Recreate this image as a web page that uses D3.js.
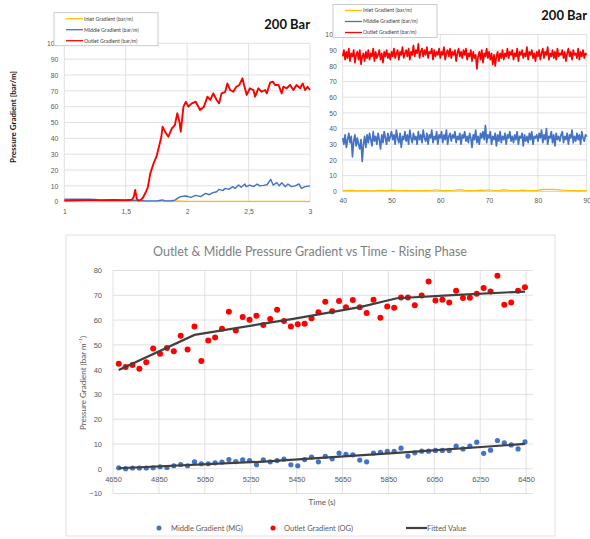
<!DOCTYPE html>
<html>
<head>
<meta charset="utf-8">
<script src="https://cdn.jsdelivr.net/npm/d3@7"></script>
<style>
  body { margin: 0; background: #fff; }
  svg { display: block; font-family: Lato, "Liberation Sans", sans-serif; }
</style>
</head>
<body>
<svg id="chart" width="590" height="539"></svg>
<script>
// ---- top left: 200 bar, rising (x = time, y = bar/m)
const tlRedX = [1.0, 1.1, 1.2, 1.3, 1.4, 1.5, 1.55, 1.565, 1.577, 1.59, 1.6, 1.62, 1.64, 1.665, 1.68, 1.70,
  1.727, 1.75, 1.774, 1.79, 1.80, 1.82, 1.847, 1.875, 1.90, 1.92, 1.937, 1.948, 1.97, 1.99, 2.01, 2.037,
  2.07, 2.105, 2.137, 2.165, 2.187, 2.213, 2.24, 2.26, 2.28, 2.31, 2.327, 2.35, 2.376, 2.40, 2.425, 2.45,
  2.463, 2.485, 2.51, 2.54, 2.553, 2.58, 2.607, 2.634, 2.648, 2.675, 2.697, 2.716, 2.743, 2.77, 2.783,
  2.81, 2.838, 2.865, 2.89, 2.92, 2.94, 2.96, 2.98, 3.0];
const tlRed = [0.8, 0.9, 1.0, 1.0, 1.1, 1.0, 1.2, 3, 7.4, 2, 0.8, 1.0, 2.5, 6.3, 9, 17.9,
  24.2, 28.4, 35.8, 41, 47.3, 44.2, 41, 46.3, 48.4, 55.8, 50.5, 44.2, 60, 63.1, 60, 62.1,
  63.1, 57.9, 60, 66.3, 64.2, 68.4, 64.2, 62.1, 68.4, 69.4, 74.7, 70.5, 69.4, 72.6, 73.7, 77.9,
  73.7, 67.4, 71.6, 70.5, 66.3, 71.6, 69.4, 70.5, 68.4, 75.1, 75.8, 73.7, 73.7, 68.4, 72.6,
  71.6, 73.7, 70.5, 73.7, 71.6, 74.7, 70.5, 72.6, 70.5];
const tlBlueX = [1.0, 1.1, 1.2, 1.25, 1.3, 1.4, 1.5, 1.6, 1.65, 1.7, 1.75, 1.8, 1.82, 1.87, 1.9,
  1.945, 1.99, 2.03, 2.07, 2.11, 2.15, 2.18, 2.21, 2.24, 2.26, 2.29, 2.31, 2.34, 2.37, 2.39, 2.42,
  2.44, 2.47, 2.48, 2.51, 2.54, 2.57, 2.59, 2.62, 2.65, 2.68, 2.70, 2.73, 2.75, 2.77, 2.80, 2.82,
  2.85, 2.88, 2.91, 2.93, 2.96, 3.0];
const tlBlue = [1.6, 1.5, 1.6, 1.4, 1.0, 0.9, 1.0, 0.9, 0.6, 0.5, 0.5, 1.1, 0.5, 0.6, 1.0,
  3.2, 3.6, 2.7, 4.0, 3.2, 5.3, 4.4, 5.7, 6.3, 7.8, 7.0, 8.4, 7.8, 9.5, 8.4, 10.5,
  9.1, 11.2, 9.5, 10.5, 9.5, 11.2, 10.0, 10.3, 10.7, 14.1, 10.5, 12.0, 10.0, 12.0, 9.5, 11.2,
  9.5, 10.0, 11.2, 8.4, 9.5, 10.0];
const tlYellowX = [1.0, 1.1, 1.2, 1.25, 1.3, 1.5, 1.8, 1.9, 2.0, 2.5, 3.0];
const tlYellow = [0.8, 0.7, 0.8, 0.6, 0.3, 0.2, 0.2, 0.4, 0.2, 0.2, 0.2];
const tlTicks = [1, 1.5, 2, 2.5, 3];

// ---- top right: 200 bar, steady (one sample every 0.25 from 40)
const trRed = [
  86,90,84,89,85,91,83,88,86,90,82,87,89,84,90,81,86,88,83,89,
  85,90,84,88,86,91,83,89,85,87,90,84,88,82,89,86,90,85,88,84,
  89,86,91,85,88,90,84,89,87,92,85,88,90,86,91,84,89,87,93,86,
  90,88,94,85,89,91,86,90,87,92,85,89,88,91,84,90,86,89,87,91,
  85,89,87,92,84,88,90,86,91,85,89,87,90,83,88,91,86,89,85,90,
  87,91,84,88,86,90,83,89,85,87,78,86,89,84,90,82,88,86,91,85,
  89,84,88,81,87,80,86,89,83,88,85,90,84,88,86,91,85,89,87,90,
  84,88,86,91,83,89,87,90,85,88,86,92,84,89,87,90,85,88,83,89,
  86,90,84,88,91,85,89,87,92,84,88,86,90,85,89,84,91,86,88,87,
  90,85,89,83,88,91,86,89,84,90,87,88,85,91,84,89,86,90,85,88,87];
const trBlue = [
  34,30,36,28,33,37,31,35,22,32,36,29,34,30,27,33,19,30,35,28,
  36,31,37,33,29,38,32,35,30,37,33,27,36,31,38,34,30,37,32,35,
  38,33,36,30,39,34,31,37,28,35,33,38,32,36,30,39,34,31,37,33,
  35,30,38,33,36,31,39,34,32,37,30,36,34,39,31,35,33,38,30,36,
  34,38,31,36,33,39,30,35,37,32,36,34,38,31,35,33,37,30,36,34,
  38,32,35,31,37,34,28,36,33,39,31,35,30,37,34,38,33,42,31,36,
  34,38,30,35,33,37,29,36,32,38,31,35,33,37,30,36,34,38,32,35,
  31,36,33,38,30,35,34,37,29,36,32,35,31,37,33,38,30,35,34,36,
  32,37,34,39,31,36,33,40,30,35,34,38,31,36,29,37,33,35,32,36,
  38,31,35,33,37,30,36,34,39,31,35,32,37,33,36,30,38,34,32,36,35];
// inlet, one sample per unit from 40
const trYellow = [0.5,0.4,0.6,0.3,0.5,0.4,0.3,0.5,0.6,0.4,0.8,0.5,0.4,0.6,0.3,0.5,0.4,0.6,0.5,1.0,
  0.6,0.4,0.5,0.7,1.1,0.6,0.4,0.5,0.8,0.6,1.0,0.5,0.4,0.9,0.6,0.4,0.5,0.7,0.5,0.4,
  0.6,1.2,1.3,1.2,1.1,0.8,0.6,0.5,0.4,0.5,0.4];
const trTicks = [40, 50, 60, 70, 80, 90];

const topLegend = ["Inlet Gradient (bar/m)", "Middle Gradient (bar/m)", "Outlet Gradient (bar/m)"];
const topColors = ["#ffc000", "#4472c4", "#ff0000"];
const yTicksTop = [0, 10, 20, 30, 40, 50, 60, 70, 80, 90, 100];

// ---- bottom: rising phase scatter + fitted
const bTime = [4675,4705,4735,4765,4795,4825,4855,4885,4915,4945,4975,5005,5035,5065,5095,5125,5155,5185,5215,5245,
  5275,5305,5335,5365,5395,5425,5455,5485,5515,5545,5575,5605,5635,5665,5695,5725,5755,5785,5815,5845,
  5875,5905,5935,5965,5995,6025,6055,6085,6115,6145,6175,6205,6235,6265,6295,6325,6355,6385,6415,6445];
const bOutlet = [42.4,41.1,41.9,40.3,43.0,48.5,46.4,48.7,47.4,53.7,48.1,57.4,43.5,51.7,53.0,56.5,63.4,55.8,61.2,60.1,
  61.7,58.0,60.4,64.2,59.6,57.4,58.3,58.5,60.7,63.1,67.4,63.6,67.7,65.2,68.1,65.2,62.8,68.2,60.9,65.5,
  65.0,69.1,69.1,66.0,69.9,75.6,67.9,68.2,67.1,71.8,68.9,69.0,70.6,72.9,71.5,77.9,66.2,67.1,71.8,73.2];
const bMiddle = [0.4,0.0,0.3,0.3,0.3,0.4,0.8,0.5,1.2,1.7,1.2,2.8,2.0,2.0,2.4,2.7,3.7,2.9,3.6,3.3,
  1.6,3.6,2.8,3.3,3.9,1.6,1.2,3.7,4.7,2.8,5.0,4.0,6.3,5.8,5.6,3.5,2.8,6.3,6.6,7.0,
  7.0,8.3,5.1,6.4,7.1,7.1,7.4,7.4,7.4,9.1,8.0,9.1,10.7,6.2,7.5,11.4,10.4,9.6,8.0,10.8];
const fitOutT = [4675, 5005, 5435, 5726, 5887, 6150, 6445];
const fitOut = [39.8, 54.0, 60.5, 65.2, 68.8, 70.2, 71.5];
const fitMidT = [4675, 5290, 5871, 6445];
const fitMid = [0.2, 2.8, 6.3, 10.0];
const bXTicks = [4650, 4850, 5050, 5250, 5450, 5650, 5850, 6050, 6250, 6450];
const bYTicks = [-10, 0, 10, 20, 30, 40, 50, 60, 70, 80];

const svg = d3.select("#chart");
const grid = "#d9d9d9";

function drawTop(o) {
  const x = d3.scaleLinear().domain(o.xDomain).range(o.xRange);
  const y = d3.scaleLinear().domain([0, 100]).range(o.yRange);
  const g = svg.append("g");

  g.append("g").selectAll("line").data(yTicksTop.slice(1)).join("line")
    .attr("x1", o.xRange[0]).attr("x2", o.xRange[1])
    .attr("y1", d => y(d)).attr("y2", d => y(d))
    .attr("stroke", grid).attr("stroke-width", 0.8);
  g.append("g").selectAll("line").data(o.ticks).join("line")
    .attr("x1", d => x(d)).attr("x2", d => x(d))
    .attr("y1", o.yRange[0]).attr("y2", o.yRange[1])
    .attr("stroke", grid).attr("stroke-width", 0.8);
  g.append("line").attr("x1", o.xRange[0]).attr("x2", o.xRange[1])
    .attr("y1", y(0)).attr("y2", y(0)).attr("stroke", "#bfbfbf").attr("stroke-width", 0.8);

  const ya = g.append("g").attr("transform", `translate(${o.xRange[0] - 3},0)`)
    .call(d3.axisLeft(y).tickValues(yTicksTop).tickSize(0).tickPadding(3));
  const xa = g.append("g").attr("transform", `translate(0,${y(0) + 3})`)
    .call(d3.axisBottom(x).tickValues(o.ticks).tickSize(0).tickPadding(4)
      .tickFormat(d => String(d).replace(".", ",")));
  [ya, xa].forEach(a => {
    a.select(".domain").remove();
    a.selectAll("text").attr("fill", "#595959").attr("font-size", 6.8);
  });

  const line = d3.line().x(d => x(d[0])).y(d => y(d[1]));
  o.series.forEach((s, i) => {
    g.append("path").datum(d3.zip(s.x, s.y))
      .attr("fill", "none").attr("stroke", topColors[i])
      .attr("stroke-width", s.w).attr("stroke-linejoin", "round")
      .attr("d", line);
  });

  const lg = g.append("g").attr("transform", `translate(${o.legend[0]},${o.legend[1]})`);
  lg.append("rect").attr("width", 104).attr("height", 33)
    .attr("fill", "#fff").attr("stroke", "#bfbfbf").attr("stroke-width", 0.8);
  topLegend.forEach((t, i) => {
    const yy = 6 + i * 11;
    lg.append("line").attr("x1", 12).attr("x2", 29).attr("y1", yy).attr("y2", yy)
      .attr("stroke", topColors[i]).attr("stroke-width", 1.3);
    lg.append("text").attr("x", 30).attr("y", yy).attr("dy", "0.35em")
      .attr("font-size", 5.2).attr("fill", "#404040").text(t);
  });

  g.append("text").attr("x", o.title[0]).attr("y", o.title[1])
    .attr("text-anchor", "end").attr("font-weight", "bold").attr("font-size", 13)
    .attr("fill", "#111").text("200 Bar");
}

drawTop({
  xDomain: [1, 3], xRange: [64.3, 310], yRange: [201.7, 43.3], ticks: tlTicks,
  series: [
    { x: tlYellowX, y: tlYellow, w: 1.4 },
    { x: tlBlueX, y: tlBlue, w: 1.4 },
    { x: tlRedX, y: tlRed, w: 1.9 }
  ],
  legend: [54, 12.7], title: [310, 29]
});
drawTop({
  xDomain: [40, 90], xRange: [342.7, 586.7], yRange: [191.3, 34.5], ticks: trTicks,
  series: [
    { x: trYellow.map((d, i) => 40 + i), y: trYellow, w: 1.2 },
    { x: trBlue.map((d, i) => 40 + i * 0.25), y: trBlue, w: 1.7 },
    { x: trRed.map((d, i) => 40 + i * 0.25), y: trRed, w: 1.7 }
  ],
  legend: [333, 4.5], title: [587, 20]
});

svg.append("text")
  .attr("transform", "translate(16,117) rotate(-90)")
  .attr("text-anchor", "middle").attr("font-weight", "bold").attr("font-size", 8)
  .attr("fill", "#111").text("Pressure Gradient [bar/m]");

// ---- bottom chart
const bx = d3.scaleLinear().domain([4650, 6480]).range([113, 533]);
const by = d3.scaleLinear().domain([-10, 80]).range([493.5, 270.5]);
const bg = svg.append("g");

bg.append("rect").attr("x", 66).attr("y", 235).attr("width", 489).attr("height", 301)
  .attr("fill", "#fff").attr("stroke", grid).attr("stroke-width", 0.8);
bg.append("text").attr("x", 310).attr("y", 256).attr("text-anchor", "middle")
  .attr("font-size", 12.5).attr("fill", "#7f7f7f")
  .text("Outlet & Middle Pressure Gradient vs Time - Rising Phase");

bg.append("g").selectAll("line").data(bYTicks).join("line")
  .attr("x1", 113).attr("x2", 533).attr("y1", d => by(d)).attr("y2", d => by(d))
  .attr("stroke", grid).attr("stroke-width", 0.8);
bg.append("g").selectAll("line").data(bXTicks).join("line")
  .attr("x1", d => bx(d)).attr("x2", d => bx(d)).attr("y1", by(-10)).attr("y2", by(80))
  .attr("stroke", grid).attr("stroke-width", 0.8);

const bya = bg.append("g").attr("transform", "translate(105,0)")
  .call(d3.axisLeft(by).tickValues(bYTicks).tickSize(0).tickPadding(3));
const bxa = bg.append("g").attr("transform", `translate(0,${by(0) + 4})`)
  .call(d3.axisBottom(bx).tickValues(bXTicks).tickSize(0).tickPadding(4).tickFormat(d3.format("d")));
[bya, bxa].forEach(a => {
  a.select(".domain").remove();
  a.selectAll("text").attr("fill", "#595959").attr("font-size", 7.5);
});

bg.append("text").attr("x", 322).attr("y", 505).attr("text-anchor", "middle")
  .attr("font-size", 8).attr("fill", "#595959").text("Time (s)");
bg.append("text").attr("transform", "translate(86,383) rotate(-90)")
  .attr("text-anchor", "middle").attr("font-size", 8).attr("fill", "#595959")
  .text("Pressure Gradient (bar m⁻¹)");

const bline = d3.line().x(d => bx(d[0])).y(d => by(d[1]));
bg.append("g").selectAll("circle").data(d3.zip(bTime, bOutlet)).join("circle")
  .attr("cx", d => bx(d[0])).attr("cy", d => by(d[1])).attr("r", 3)
  .attr("fill", "#ff0000");
bg.append("g").selectAll("circle").data(d3.zip(bTime, bMiddle)).join("circle")
  .attr("cx", d => bx(d[0])).attr("cy", d => by(d[1])).attr("r", 2.6)
  .attr("fill", "#4472c4");
[[fitOutT, fitOut], [fitMidT, fitMid]].forEach(([t, v]) => {
  bg.append("path").datum(d3.zip(t, v)).attr("fill", "none")
    .attr("stroke", "#404040").attr("stroke-width", 2.2).attr("d", bline);
});

// legend
const bl = bg.append("g").attr("transform", "translate(0,528)");
bl.append("circle").attr("cx", 159).attr("cy", 0).attr("r", 2.5).attr("fill", "#4472c4");
bl.append("text").attr("x", 171).attr("dy", "0.35em").attr("font-size", 7.5)
  .attr("fill", "#595959").text("Middle Gradient (MG)");
bl.append("circle").attr("cx", 273).attr("cy", 0).attr("r", 2.5).attr("fill", "#ff0000");
bl.append("text").attr("x", 284).attr("dy", "0.35em").attr("font-size", 7.5)
  .attr("fill", "#595959").text("Outlet Gradient (OG)");
bl.append("line").attr("x1", 406).attr("x2", 427).attr("stroke", "#404040").attr("stroke-width", 2.2);
bl.append("text").attr("x", 427).attr("dy", "0.35em").attr("font-size", 7.5)
  .attr("fill", "#595959").text("Fitted Value");
</script>
</body>
</html>
